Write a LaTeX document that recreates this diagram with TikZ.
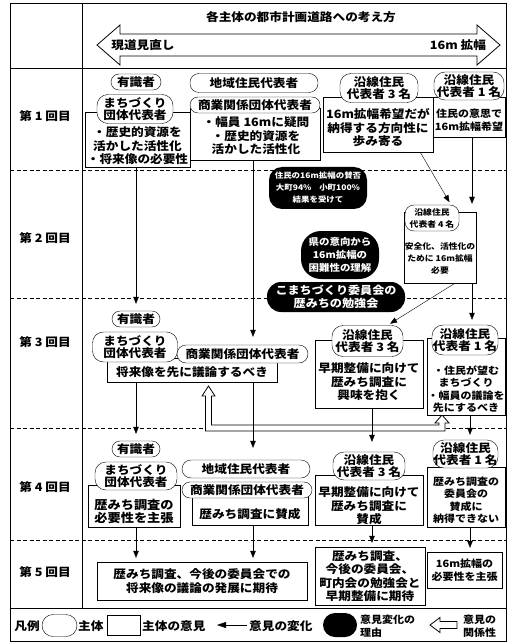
\documentclass[tikz,border=0pt]{standalone}
\usepackage{fontspec}
\setmainfont{Noto Sans CJK JP}[FakeStretch=1.1]
\usetikzlibrary{arrows.meta}
\pgfdeclarelayer{grid}
\pgfdeclarelayer{links}
\pgfsetlayers{grid,links,main}
\newcommand\fA{\fontsize{11.5}{13.5}\selectfont\bfseries}
\newcommand\fO{\fontsize{11.5}{12.5}\selectfont\bfseries}
\newcommand\fB{\fontsize{12}{13}\selectfont\bfseries}
\newcommand\fS{\fontsize{10}{12.5}\selectfont\bfseries}
\newcommand\fM{\fontsize{9.5}{13}\selectfont\bfseries}
\newcommand\fL{\fontsize{11}{12.5}\selectfont\bfseries}
\newcommand\fT{\fontsize{8}{12}\selectfont\bfseries}
\newcommand\fR{\fontsize{7.7}{12}\selectfont\bfseries}
\begin{document}
\begin{tikzpicture}[x=1pt,y=-1pt,
  line width=0.8pt,
  sz/.style 2 args={minimum width=#1pt, minimum height=#2pt},
  subj/.style={draw, fill=white, rounded corners=#1, inner sep=0pt, align=center, font=\fO},
  subj/.default=8pt,
  opbox/.style={draw, fill=white, inner sep=0pt},
  optext/.style={inner sep=0pt, align=center, font=\fA},
  reason/.style={fill=black, text=white, rounded corners=#1, inner sep=0pt, align=center},
  reason/.default=12pt,
  conn/.style={-{Triangle[length=7pt,width=5.5pt]}, shorten >=3pt},
  gridline/.style={line width=0.8pt},
  dashline/.style={line width=0.8pt, dash pattern=on 4pt off 2.5pt},
  hollow/.style={draw, fill=white, line width=0.8pt, line join=miter},
  lbl/.style={font=\fA, inner sep=0pt},
]
\useasboundingbox (0,0) rectangle (509,644);
\begin{pgfonlayer}{grid}
\fill[white] (0,0) rectangle (509,644);
\draw[gridline] (10,3) rectangle (506,641);
\draw[gridline] (82,3) -- (82,608);
\draw[gridline] (10,68) -- (506,68);
\draw[gridline] (10,608) -- (506,608);
\draw[dashline] (10,170) -- (506,170);
\draw[dashline] (10,298) -- (506,298);
\draw[dashline] (10,428) -- (506,428);
\draw[dashline] (10,540) -- (506,540);
\end{pgfonlayer}

% header
\node[lbl] (title) at (301,17) {各主体の都市計画道路への考え方};
\draw[hollow] (97,45) -- (120,25) -- (120,34) -- (477,34) -- (477,25) -- (500,45)
  -- (477,65) -- (477,56) -- (120,56) -- (120,65) -- cycle;
\node[lbl] (h1) at (143,45) {現道見直し};
\node[lbl] (h2) at (458,45) {16m 拡幅};

% row labels
\node[lbl] (l1) at (45,116) {第 1 回目};
\node[lbl] (l2) at (45,238) {第 2 回目};
\node[lbl] (l3) at (45,342) {第 3 回目};
\node[lbl] (l4) at (45,487) {第 4 回目};
\node[lbl] (l5) at (45,572) {第 5 回目};

% ---------- round 1
\node[opbox, sz={105}{55}] (m1b) at (137.5,139.5) {};
\node[optext] (m1t) at (137.5,146) {・歴史的資源を\\活かした活性化\\・将来像の必要性};
\node[subj=8pt, sz={50}{16}] (ya1) at (136,82) {有識者};
\node[subj=11pt, sz={76}{29}] (m1o) at (135,109) {まちづくり\\団体代表者};

\node[opbox, sz={130}{52}] (c1b) at (255,134) {};
\node[optext] (c1t) at (256,136) {・幅員 16mに疑問\\・歴史的資源を\\活かした活性化};
\node[subj=9pt, sz={128}{19}] (ch1) at (254,83) {地域住民代表者};
\node[subj=8pt, sz={130}{16}] (cs1) at (255,105) {商業関係団体代表者};

\node[opbox, sz={110}{55}] (s1b) at (378,124.5) {};
\node[optext] (s1t) at (378,128) {16m拡幅希望だが\\納得する方向性に\\歩み寄る};
\node[subj=11pt, sz={78}{29}] (s1o) at (379,88) {沿線住民\\代表者 3 名};

\node[opbox, sz={72}{40}] (o1b) at (469,117) {};
\node[optext, font=\fS] (o1t) at (469,120) {住民の意思で\\16m拡幅希望};
\node[subj=11pt, sz={70}{28}] (o1o) at (469,86) {沿線住民\\代表者 1 名};

% ---------- round 2
\node[reason=13pt, sz={98}{42}, font=\fR] (r1) at (318,188) {住民の16m拡幅の賛否\\大町94\%\quad 小町100\%\\結果を受けて};
\node[opbox, sz={72}{71}] (f4b) at (440,247.5) {};
\node[optext, font=\fT] (f4t) at (440,258) {安全化、活性化の\\ために 16m拡幅\\必要};
\node[subj=9pt, sz={54}{26}, font=\fT] (f4o) at (432,218) {沿線住民\\代表者 4 名};
\node[reason=20pt, sz={78}{48}, font=\fM] (r2) at (340,255) {県の意向から\\16m拡幅の\\困難性の理解};
\node[reason=14pt, sz={138}{30}, font=\fL] (r3) at (336,297) {こまちづくり委員会の\\歴みちの勉強会};

% ---------- round 3
\node[subj=8pt, sz={48}{16}] (ya3) at (136,319) {有識者};
\node[opbox, sz={170}{24}] (m3b) at (192,370) {};
\node[optext] (m3t) at (192,372) {将来像を先に議論するべき};
\node[subj=11pt, sz={85}{30}] (m3o) at (135,347) {まちづくり\\団体代表者};
\node[subj=9pt, sz={131}{18}] (cs3) at (242.5,354) {商業関係団体代表者};

\node[opbox, sz={108}{68}] (s3b) at (369,374) {};
\node[optext] (s3t) at (369,382) {早期整備に向けて\\歴みち調査に\\興味を抱く};
\node[subj=11pt, sz={71}{31}] (s3o) at (367.5,341) {沿線住民\\代表者 3 名};

\node[opbox, sz={78}{77}] (o3b) at (466,376.5) {};
\node[optext, font=\fS] (o3t) at (466,389) {・住民が望む\\まちづくり\\・幅員の議論を\\先にするべき};
\node[subj=11pt, sz={66}{30}] (o3o) at (465,340) {沿線住民\\代表者 1 名};

% ---------- round 4
\node[subj=8pt, sz={48}{16}] (ya4) at (136,449) {有識者};
\node[opbox, sz={92}{42}] (m4b) at (134,506) {};
\node[optext, font=\fB] (m4t) at (134,511) {歴みち調査の\\必要性を主張};
\node[subj=11pt, sz={82}{28}] (m4o) at (136,476) {まちづくり\\団体代表者};

\node[opbox, sz={116}{30}] (c4b) at (250,510) {};
\node[optext] (c4t) at (250,514) {歴みち調査に賛成};
\node[subj=9pt, sz={128}{18}] (ch4) at (246,469) {地域住民代表者};
\node[subj=8pt, sz={130}{16}] (cs4) at (247,490) {商業関係団体代表者};

\node[opbox, sz={108}{50}] (s4b) at (369,500) {};
\node[optext] (s4t) at (369,506) {早期整備に向けて\\歴みち調査に\\賛成};
\node[subj=11pt, sz={72}{28}] (s4o) at (369,466) {沿線住民\\代表者 3 名};

\node[opbox, sz={78}{60}] (o4b) at (466,497) {};
\node[optext, font=\fS] (o4t) at (466,500) {歴みち調査の\\委員会の\\賛成に\\納得できない};
\node[subj=11pt, sz={65}{28}] (o4o) at (465.5,454) {沿線住民\\代表者 1 名};

% ---------- round 5
\node[opbox, optext, sz={210}{38}] (p5) at (202,581) {歴みち調査、今後の委員会での\\将来像の議論の発展に期待};
\node[opbox, optext, sz={110}{58}] (s5) at (370,576) {歴みち調査、\\今後の委員会、\\町内会の勉強会と\\早期整備に期待};
\node[opbox, optext, font=\fS, sz={75}{36}] (o5) at (464.5,570) {16m拡幅の\\必要性を主張};

% ---------- connectors
\begin{pgfonlayer}{links}
\draw[hollow] (208.5,386) -- (215,396) -- (211.5,396) -- (211.5,425) -- (439,425)
  -- (439,423) -- (435,423) -- (442,415) -- (449,423) -- (445,423) -- (445,431)
  -- (205.5,431) -- (205.5,396) -- (202,396) -- cycle;
\draw[conn, shorten >=7pt] (ya3.north |- m1b.south) -- (ya3.north);
\draw[conn, shorten >=8pt] ([xshift=-2pt]c1b.south) -- ([xshift=-2pt]c1b.south |- cs3.north);
\draw[conn] ([xshift=-13pt]s1b.south east) -- ([xshift=19pt]f4o.north);
\draw[conn, shorten >=8pt] ([xshift=3pt]o1b.south) -- ([xshift=3pt]o1b.south |- f4b.north);
\draw[conn] ([xshift=15pt]f4b.south) -- ([xshift=20pt]s3o.north);
\draw[conn, shorten >=5pt] ([xshift=32pt]f4b.south) -- ([xshift=32pt]f4b.south |- o3o.north);
\draw[conn, shorten >=7pt] (ya4.north |- m3b.south) -- (ya4.north);
\draw[conn, shorten >=12pt] ([xshift=-2pt]c1b.south |- m3b.south) -- ([xshift=-2pt]c1b.south |- ch4.north);
\draw[conn, shorten >=10pt] ([xshift=3pt]s3b.south) -- ([xshift=3pt]s3b.south |- s4o.north);
\draw[conn, shorten >=5pt] ([xshift=4pt]o3b.south) -- ([xshift=4pt]o3b.south |- o4o.north);
\draw[conn, shorten >=4pt] (ya4.north |- m4b.south) -- (ya4.north |- p5.north);
\draw[conn, shorten >=4pt] ([xshift=-2pt]c1b.south |- c4b.south) -- ([xshift=-2pt]c1b.south |- p5.north);
\draw[conn, shorten >=4pt] ([xshift=3pt]s4b.south) -- ([xshift=3pt]s4b.south |- s5.north);
\draw[conn, shorten >=4pt] ([xshift=4pt]o4b.south) -- ([xshift=4pt]o4b.south |- o5.north);
\end{pgfonlayer}

% ---------- legend
\node[lbl] (lg) at (27,626) {凡例};
\node[subj=11pt, sz={35}{22}] (lgo) at (59.5,625.5) {};
\node[lbl, anchor=west] (lgot) at (78,626) {主体};
\node[opbox, sz={33}{20}] (lgb) at (123.5,625) {};
\node[lbl, anchor=west] (lgbt) at (142,626) {主体の意見};
\coordinate (lga1) at (247,625);
\coordinate (lga2) at (217,625);
\draw[-{Triangle[length=9pt,width=6pt]}] (lga1) -- (lga2);
\node[lbl, anchor=west] (lgat) at (249,626) {意見の変化};
\node[reason=12pt, sz={34}{24}] (lgr) at (340,625) {};
\node[lbl, font=\fS, anchor=west, align=left] (lgrt) at (360,626) {意見変化の\\理由};
\draw[hollow] (430,625) -- (440,617.5) -- (440,621.5) -- (457,621.5) -- (457,628.5)
  -- (440,628.5) -- (440,632.5) -- cycle;
\node[lbl, font=\fS, anchor=west, align=left] (lght) at (463,626) {意見の\\関係性};
\end{tikzpicture}
\end{document}
